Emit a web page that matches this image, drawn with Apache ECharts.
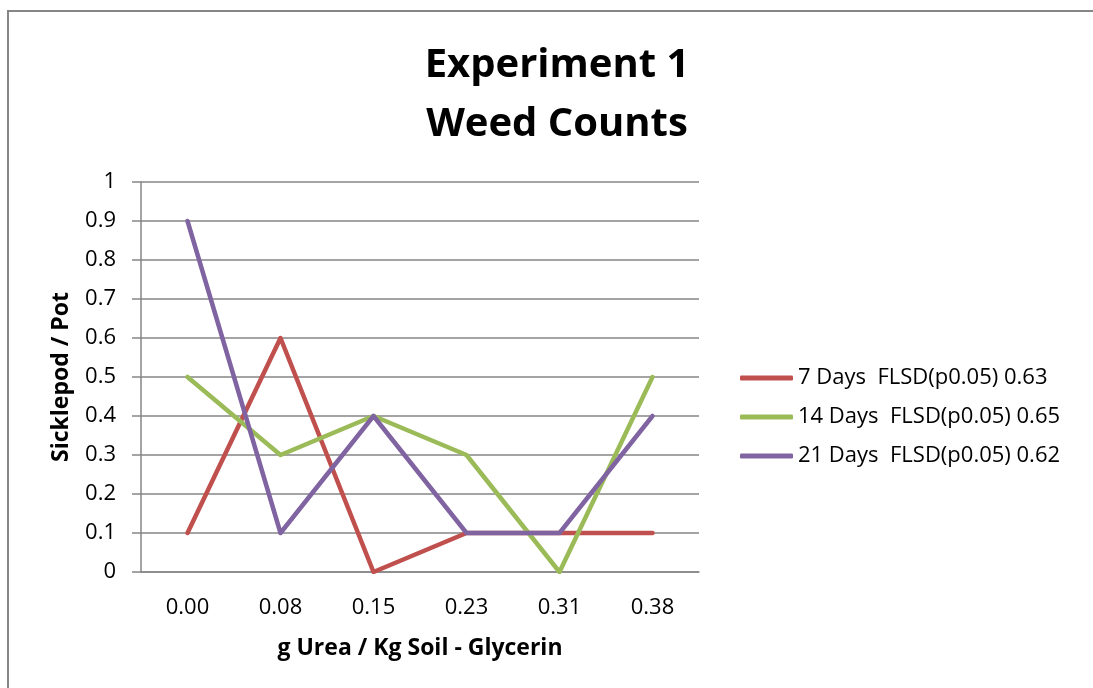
<!DOCTYPE html>
<html>
<head>
<meta charset="utf-8">
<script src="https://cdn.jsdelivr.net/npm/echarts@6/dist/echarts.min.js"></script>
<style>
html,body{margin:0;padding:0;background:#fff;}
#chart{width:1093px;height:688px;}
</style>
</head>
<body>
<div id="chart"></div>
<script>
var categories = ['0.00', '0.08', '0.15', '0.23', '0.31', '0.38'];
var seriesNames = ['7 Days  FLSD(p0.05) 0.63', '14 Days  FLSD(p0.05) 0.65', '21 Days  FLSD(p0.05) 0.62'];
var days7 = [0.1, 0.6, 0, 0.1, 0.1, 0.1];
var days14 = [0.5, 0.3, 0.4, 0.3, 0, 0.5];
var days21 = [0.9, 0.1, 0.4, 0.1, 0.1, 0.4];
var colors = ['#C0504D', '#9BBB59', '#8064A2'];
var font = '"Open Sans", sans-serif';

var chart = echarts.init(document.getElementById('chart'));
function mk(name, data, color) {
  return {
    name: name, type: 'line', data: data, showSymbol: false, symbol: 'none',
    lineStyle: { color: color, width: 4.5, cap: 'round', join: 'round' },
    itemStyle: { color: color }, animation: false
  };
}
chart.setOption({
  animation: false,
  color: colors,
  textStyle: { fontFamily: font },
  graphic: [
    { type: 'rect', shape: { x: 8, y: 11, width: 1200, height: 800 },
      style: { fill: 'none', stroke: '#868686', lineWidth: 2 }, silent: true, z: -1 },
    { type: 'text', x: 557, y: 36,
      style: { text: 'Experiment 1\nWeed Counts', fontSize: 40, fontWeight: 'bold',
        fontFamily: font, fill: '#000', textAlign: 'center', lineHeight: 59 } }
  ],
  grid: { left: 141, right: 394, top: 182, bottom: 116, containLabel: false },
  legend: {
    orient: 'vertical', left: 740, top: 366, padding: 0,
    icon: 'roundRect', itemWidth: 53, itemHeight: 5, itemGap: 15,
    textStyle: { fontSize: 22, fontFamily: font, color: '#000', lineHeight: 24 },
    data: seriesNames
  },
  xAxis: {
    type: 'category', data: categories, boundaryGap: true,
    name: 'g Urea / Kg Soil - Glycerin', nameLocation: 'middle', nameGap: 65,
    nameTextStyle: { fontSize: 23, fontWeight: 'bold', color: '#000', fontFamily: font },
    axisLine: { lineStyle: { color: '#868686', width: 1.5 } },
    axisTick: { show: false },
    axisLabel: { fontSize: 22, color: '#000', margin: 25, fontFamily: font }
  },
  yAxis: {
    type: 'value', min: 0, max: 1, interval: 0.1,
    name: 'Sicklepod / Pot', nameLocation: 'middle', nameGap: 68, nameRotate: 90,
    nameTextStyle: { fontSize: 23, fontWeight: 'bold', color: '#000', fontFamily: font },
    axisLine: { show: true, lineStyle: { color: '#868686', width: 1.5 } },
    axisTick: { show: true, length: 9, lineStyle: { color: '#868686', width: 1.5 } },
    axisLabel: { fontSize: 22, color: '#000', margin: 25, fontFamily: font,
      formatter: function (v) { return Math.round(v * 10) / 10 + ''; } },
    splitLine: { show: true, lineStyle: { color: '#868686', width: 1.5 } }
  },
  series: [mk(seriesNames[0], days7, colors[0]), mk(seriesNames[1], days14, colors[1]), mk(seriesNames[2], days21, colors[2])]
});
</script>
</body>
</html>
